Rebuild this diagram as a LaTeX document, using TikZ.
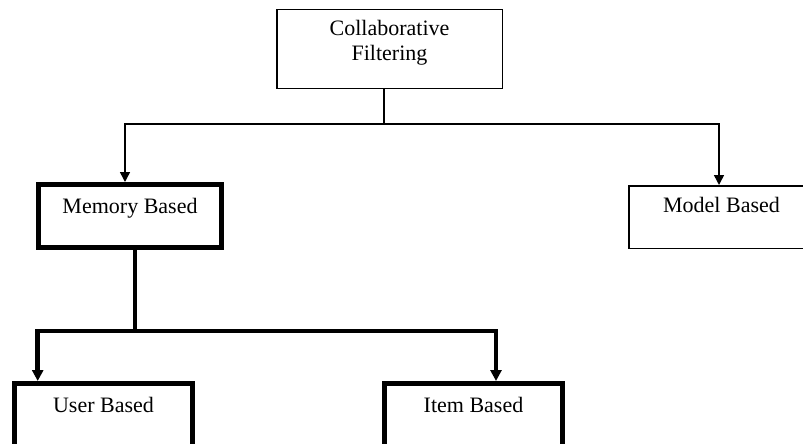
\documentclass[tikz,border=0pt]{standalone}
\usepackage{fontspec}
\setmainfont{Liberation Serif}
\usetikzlibrary{arrows.meta}

\begin{document}
\begin{tikzpicture}[x=1pt, y=-1pt,
  every node/.style={font=\fontsize{22}{25}\selectfont, inner sep=0pt, align=center},
  thinbox/.style={draw, line width=1.5pt, rectangle},
  thickbox/.style={draw, line width=5pt, rectangle},
  thinline/.style={line width=1.5pt},
  thickline/.style={line width=4.5pt},
  thinarrow/.style={thinline, -{Triangle[length=10pt, width=10pt]}},
  thickarrow/.style={thickline, -{Triangle[length=11pt, width=11pt]}}]

  \useasboundingbox (0,0) rectangle (803,444);

  % top level
  \node[thinbox, minimum width=225.5pt, text height=26.25pt, text depth=52.25pt]
    (cf) at (389.5,49) {\begin{tabular}[t]{@{}c@{}}Collaborative\\Filtering\end{tabular}};

  % second level
  \node[thickbox, minimum width=183pt, text height=28.5pt, text depth=34.5pt]
    (mem) at (130,216) {Memory Based};
  \node[thinbox, minimum width=185.5pt, text height=26.25pt, text depth=36.25pt]
    (model) at (721.5,217) {Model Based};

  % third level (lower edges run past the page)
  \node[thickbox, minimum width=178pt, text height=28.5pt, text depth=40pt]
    (user) at (103.5,417.75) {User Based};
  \node[thickbox, minimum width=178pt, text height=28.5pt, text depth=40pt]
    (item) at (473.5,417.75) {Item Based};

  % branch below the root
  \coordinate (split1) at (384,124);
  \draw[thinline] (cf.south -| split1) -- (split1);
  \draw[thinarrow] (split1) -| ([xshift=-5pt]mem.north);
  \draw[thinarrow] (split1) -| ([xshift=-2.5pt]model.north);

  % branch below memory based
  \coordinate (split2) at (135,331);
  \draw[thickline] (mem.south -| split2) -- (split2);
  \draw[thickarrow] (split2) -| ([xshift=-65.8pt]user.north);
  \draw[thickarrow] (split2) -| ([xshift=22.5pt]item.north);
\end{tikzpicture}
\end{document}
